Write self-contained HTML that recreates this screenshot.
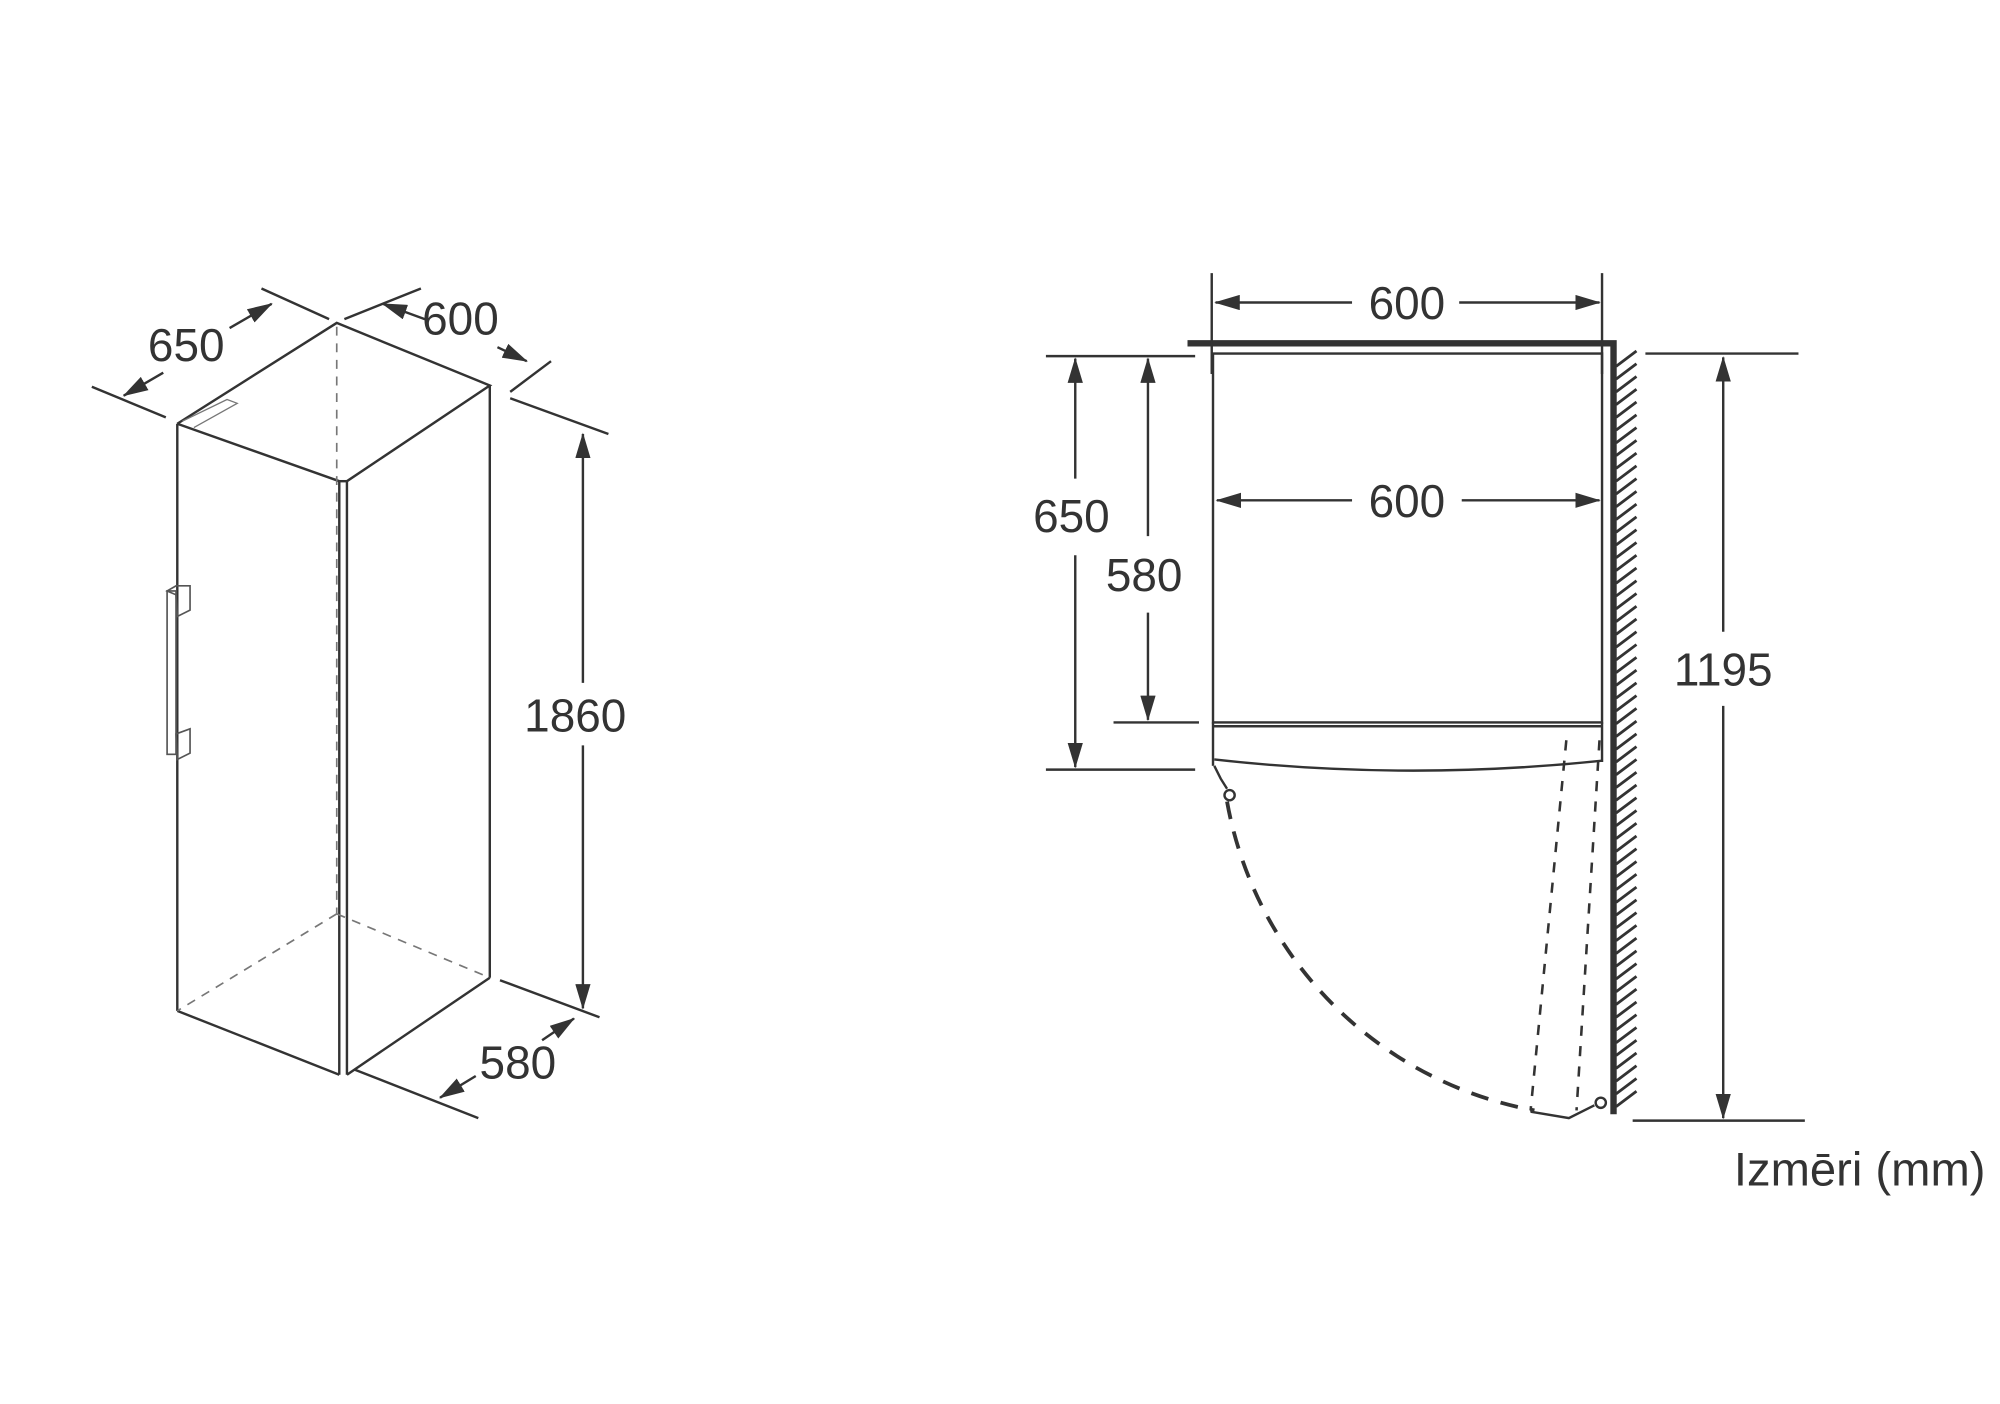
<!DOCTYPE html>
<html><head><meta charset="utf-8"><style>
html,body{margin:0;padding:0;background:#fff;}
svg{display:block;}
text{font-family:"Liberation Sans",Arial,sans-serif;fill:#333;}
</style></head><body>
<svg width="2000" height="1404" viewBox="0 0 1568 1100" preserveAspectRatio="none" xmlns="http://www.w3.org/2000/svg">
<defs>
<marker id="b" viewBox="0 0 20 12" refX="19" refY="6" markerWidth="20" markerHeight="12" markerUnits="userSpaceOnUse" orient="auto-start-reverse"><path d="M0,0 L20,6 L0,12 z" fill="#333"/></marker>
</defs>
<g stroke="#333" fill="none" stroke-width="1.9">
<!-- LEFT 3D -->
<polyline points="139,332 264,253 384,302 272,377"/>
<line x1="139" y1="332" x2="266" y2="377"/>
<line x1="139" y1="332" x2="139" y2="792"/>
<line x1="266" y1="377" x2="266" y2="842"/>
<line x1="272" y1="377" x2="272" y2="842"/>
<line x1="384" y1="302" x2="384" y2="766"/>
<line x1="139" y1="792" x2="266" y2="842"/>
<line x1="272" y1="842" x2="384" y2="766"/>
<line x1="266" y1="377" x2="272" y2="377"/>
<g stroke="#777" stroke-dasharray="7,6" stroke-width="1.3">
<line x1="264" y1="256" x2="264" y2="716"/>
<line x1="264" y1="716" x2="139" y2="792"/>
<line x1="264" y1="716" x2="384" y2="766"/>
</g>
<polyline stroke="#777" stroke-width="1" points="143,330 178,313 186,316 152,335"/>
<g stroke="#555" stroke-width="1.3">
<rect x="131" y="463" width="7" height="128"/>
<polygon points="131,463 138,459 149,459 149,478 139,483 138,466"/>
<polygon points="138,575 149,571 149,590 139,595"/>
</g>
<!-- dims left -->
<line x1="72" y1="303" x2="130" y2="327"/>
<line x1="205" y1="226" x2="258" y2="250"/>
<line x1="270" y1="250" x2="330" y2="226"/>
<line x1="400" y1="307" x2="432" y2="283"/>
<line x1="97" y1="310" x2="128" y2="292" marker-start="url(#b)"/>
<line x1="180" y1="257" x2="213" y2="238" marker-end="url(#b)"/>
<line x1="300" y1="238" x2="333" y2="250" marker-start="url(#b)"/>
<line x1="390" y1="272" x2="413" y2="283" marker-end="url(#b)"/>
<line x1="400" y1="312" x2="477" y2="340"/>
<line x1="392" y1="768" x2="470" y2="797"/>
<line x1="457" y1="340" x2="457" y2="535" marker-start="url(#b)"/>
<line x1="457" y1="584" x2="457" y2="790" marker-end="url(#b)"/>
<line x1="278" y1="838" x2="375" y2="876"/>
<line x1="345" y1="860" x2="373" y2="843" marker-start="url(#b)"/>
<line x1="425" y1="815" x2="450" y2="798" marker-end="url(#b)"/>
<!-- RIGHT plan -->
<polyline stroke-width="5" points="931,269 1265,269 1265,873"/>
<rect x="951" y="277" width="305" height="289"/>
<line x1="951" y1="569" x2="1256" y2="569"/>
<line x1="951" y1="566" x2="951" y2="600"/>
<line x1="1256" y1="566" x2="1256" y2="597"/>
<path d="M952,595 Q1103,612 1256,596"/>
<path d="M952,600 L957,610 L962,618"/>
<circle cx="964" cy="623" r="4"/>
<path d="M962,628 A300,300 0 0 0 1203,870" stroke-width="3" stroke-dasharray="14,10"/>
<line x1="1228" y1="580" x2="1200" y2="870" stroke-dasharray="8,8" stroke-width="2"/>
<line x1="1254" y1="580" x2="1236" y2="870" stroke-dasharray="8,8" stroke-width="2"/>
<polyline points="1200,871 1230,876 1250,866"/>
<circle cx="1255" cy="864" r="4"/>
<g stroke-width="2.2">
<path d="M1267,287 l16,-12 M1267,297 l16,-12 M1267,307 l16,-12 M1267,317 l16,-12 M1267,327 l16,-12 M1267,337 l16,-12 M1267,347 l16,-12 M1267,357 l16,-12 M1267,367 l16,-12 M1267,377 l16,-12 M1267,387 l16,-12 M1267,397 l16,-12 M1267,407 l16,-12 M1267,417 l16,-12 M1267,427 l16,-12 M1267,437 l16,-12 M1267,447 l16,-12 M1267,457 l16,-12 M1267,467 l16,-12 M1267,477 l16,-12 M1267,487 l16,-12 M1267,497 l16,-12 M1267,507 l16,-12 M1267,517 l16,-12 M1267,527 l16,-12 M1267,537 l16,-12 M1267,547 l16,-12 M1267,557 l16,-12 M1267,567 l16,-12 M1267,577 l16,-12 M1267,587 l16,-12 M1267,597 l16,-12 M1267,607 l16,-12 M1267,617 l16,-12 M1267,627 l16,-12 M1267,637 l16,-12 M1267,647 l16,-12 M1267,657 l16,-12 M1267,667 l16,-12 M1267,677 l16,-12 M1267,687 l16,-12 M1267,697 l16,-12 M1267,707 l16,-12 M1267,717 l16,-12 M1267,727 l16,-12 M1267,737 l16,-12 M1267,747 l16,-12 M1267,757 l16,-12 M1267,767 l16,-12 M1267,777 l16,-12 M1267,787 l16,-12 M1267,797 l16,-12 M1267,807 l16,-12 M1267,817 l16,-12 M1267,827 l16,-12 M1267,837 l16,-12 M1267,847 l16,-12 M1267,857 l16,-12 M1267,867 l16,-12"/>
</g>
<!-- dims right -->
<line x1="950" y1="214" x2="950" y2="293"/>
<line x1="1256" y1="214" x2="1256" y2="293"/>
<line x1="953" y1="237" x2="1060" y2="237" marker-start="url(#b)"/>
<line x1="1144" y1="237" x2="1254" y2="237" marker-end="url(#b)"/>
<line x1="954" y1="392" x2="1060" y2="392" marker-start="url(#b)"/>
<line x1="1146" y1="392" x2="1254" y2="392" marker-end="url(#b)"/>
<line x1="820" y1="279" x2="937" y2="279"/>
<line x1="820" y1="603" x2="937" y2="603"/>
<line x1="873" y1="566" x2="940" y2="566"/>
<line x1="843" y1="281" x2="843" y2="375" marker-start="url(#b)"/>
<line x1="843" y1="435" x2="843" y2="601" marker-end="url(#b)"/>
<line x1="900" y1="281" x2="900" y2="420" marker-start="url(#b)"/>
<line x1="900" y1="480" x2="900" y2="564" marker-end="url(#b)"/>
<line x1="1290" y1="277" x2="1410" y2="277"/>
<line x1="1280" y1="878" x2="1415" y2="878"/>
<line x1="1351" y1="280" x2="1351" y2="495" marker-start="url(#b)"/>
<line x1="1351" y1="553" x2="1351" y2="876" marker-end="url(#b)"/>
</g>
<g font-size="36" text-anchor="middle">
<text x="146" y="283">650</text>
<text x="361" y="262">600</text>
<text x="451" y="573">1860</text>
<text x="406" y="845">580</text>
<text x="1103" y="250">600</text>
<text x="1103" y="405">600</text>
<text x="840" y="417">650</text>
<text x="897" y="463">580</text>
<text x="1351" y="537">1195</text>
<text x="1458" y="929" font-size="37">Izmēri (mm)</text>
</g>
</svg>
</body></html>
